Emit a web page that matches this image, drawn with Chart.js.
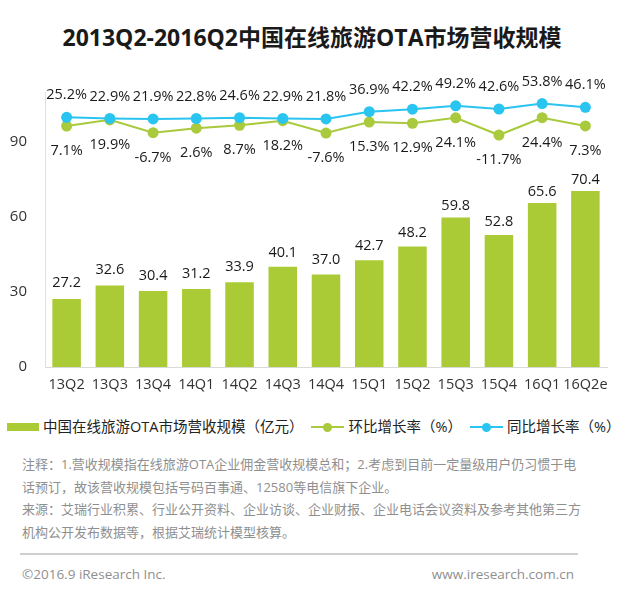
<!DOCTYPE html>
<html><head><meta charset="utf-8">
<script src="https://cdn.jsdelivr.net/npm/chart.js@4.4.0/dist/chart.umd.min.js"></script>
<style>
body{margin:0;background:#fff;}
#wrap{position:relative;width:636px;height:599px;overflow:hidden;font-family:'Open Sans','Noto Sans CJK SC',sans-serif;}
#title{position:absolute;left:0;width:624px;top:21px;text-align:center;font-weight:700;font-size:23px;line-height:32px;color:#1a1a1a;white-space:nowrap;}
#cv{position:absolute;left:0;top:0;}
#legend{position:absolute;left:7px;top:417px;height:20px;display:flex;align-items:center;font-size:14.5px;color:#222;white-space:nowrap;}
.item{display:flex;align-items:center;margin-right:8px;}
.mk{position:relative;width:33px;height:20px;margin-right:4px;}
.txt{line-height:20px;}
#notes{position:absolute;left:22px;top:453px;font-size:13px;line-height:22.5px;color:#8f8f8f;white-space:nowrap;}
#rule{position:absolute;left:20px;top:553px;width:558px;height:2px;background:#cfcfcf;}
#foot{position:absolute;left:22px;top:564px;width:552px;font-size:13.5px;line-height:20px;color:#8f8f8f;}
#foot .r{position:absolute;right:0;top:0;}
</style></head>
<body><div id="wrap">
<div id="title">2013Q2-2016Q2中国在线旅游OTA市场营收规模</div>
<canvas id="cv" width="636" height="400"></canvas>
<div id="legend"></div>
<div id="notes">注释：1.营收规模指在线旅游OTA企业佣金营收规模总和；2.考虑到目前一定量级用户仍习惯于电<br>话预订，故该营收规模包括号码百事通、12580等电信旗下企业。<br>来源：艾瑞行业积累、行业公开资料、企业访谈、企业财报、企业电话会议资料及参考其他第三方<br>机构公开发布数据等，根据艾瑞统计模型核算。</div>
<div id="rule"></div>
<div id="foot"><span>©2016.9 iResearch Inc.</span><span class="r">www.iresearch.com.cn</span></div>
</div>
<script>
const categories=['13Q2','13Q3','13Q4','14Q1','14Q2','14Q3','14Q4','15Q1','15Q2','15Q3','15Q4','16Q1','16Q2e'];
const revenue=[27.2,32.6,30.4,31.2,33.9,40.1,37.0,42.7,48.2,59.8,52.8,65.6,70.4];
const qoq=[7.1,19.9,-6.7,2.6,8.7,18.2,-7.6,15.3,12.9,24.1,-11.7,24.4,7.3];
const yoy=[25.2,22.9,21.9,22.8,24.6,22.9,21.8,36.9,42.2,49.2,42.6,53.8,46.1];
const yTicks=[0,30,60,90];
const seriesNames=['中国在线旅游OTA市场营收规模（亿元）','环比增长率（%）','同比增长率（%）'];

const FAM='"Open Sans","Noto Sans CJK SC",sans-serif';
const GREEN='#aacb36', LGREEN='#a9ca3c', BLUE='#2ac4f0';

const labelPlugin={id:'vlabels',afterDatasetsDraw(chart){
  const ctx=chart.ctx;ctx.save();
  ctx.font='14.5px '+FAM;ctx.fillStyle='#1a1a1a';ctx.textAlign='center';ctx.textBaseline='middle';
  chart.data.datasets.forEach((ds,i)=>{
    const meta=chart.getDatasetMeta(i);
    meta.data.forEach((el,j)=>{
      const v=ds.data[j];let y,t;
      if(ds.type==='bar'){t=v.toFixed(1);y=el.y-(19-0.116*v);}
      else if(ds.kind==='yoy'){t=v.toFixed(1)+'%';y=el.y-22;}
      else{t=v.toFixed(1)+'%';y=el.y+25;}
      ctx.fillText(t,el.x,y);
    });
  });
  ctx.restore();
}};

const chart=new Chart(document.getElementById('cv'),{
  data:{labels:categories,datasets:[
    {type:'line',kind:'yoy',label:seriesNames[2],data:yoy,yAxisID:'y2',borderColor:BLUE,backgroundColor:BLUE,borderWidth:2,pointRadius:5.5,pointBorderWidth:0,pointBackgroundColor:BLUE,order:1,tension:0},
    {type:'line',kind:'qoq',label:seriesNames[1],data:qoq,yAxisID:'y2',borderColor:LGREEN,backgroundColor:LGREEN,borderWidth:2,pointRadius:5.5,pointBorderWidth:0,pointBackgroundColor:LGREEN,order:2,tension:0},
    {type:'bar',label:seriesNames[0],data:revenue,yAxisID:'y',backgroundColor:GREEN,barPercentage:0.66,categoryPercentage:1,order:3}
  ]},
  options:{responsive:false,animation:false,events:[],
    layout:{padding:{top:92,right:29,left:0,bottom:0}},
    plugins:{legend:{display:false},tooltip:{enabled:false},title:{display:false}},
    scales:{
      x:{grid:{display:false,drawTicks:false},border:{display:true,color:'#d9d9d9',width:1},
         ticks:{font:{size:14.5,family:FAM},color:'#333',padding:9,maxRotation:0,autoSkip:false},
         afterFit(s){s.height=33;}},
      y:{min:0,max:110,grid:{display:false,drawTicks:false},border:{display:true,color:'#e0e0e0',width:1},
         ticks:{font:{size:15,family:FAM},color:'#333',padding:18},
         afterBuildTicks(s){s.ticks=yTicks.map(v=>({value:v}));},
         afterFit(s){s.width=45;}},
      y2:{display:false,min:-495,max:78}
    }
  },
  plugins:[labelPlugin]
});

// HTML legend from datasets
const lg=document.getElementById('legend');
[2,1,0].forEach(i=>{
  const ds=chart.data.datasets[i];
  const it=document.createElement('div');it.className='item';
  const mk=document.createElement('div');mk.className='mk';
  if(ds.type==='bar'){
    mk.style.width='32px';
    mk.innerHTML='<div style="position:absolute;left:0;top:6px;width:32px;height:8px;background:'+ds.backgroundColor+'"></div>';
  }else{
    mk.innerHTML='<div style="position:absolute;left:0;top:9px;width:33px;height:2px;background:'+ds.borderColor+'"></div><div style="position:absolute;left:12px;top:5.5px;width:9px;height:9px;border-radius:50%;background:'+ds.borderColor+'"></div>';
  }
  const tx=document.createElement('span');tx.className='txt';tx.textContent=ds.label;
  it.appendChild(mk);it.appendChild(tx);lg.appendChild(it);
});
</script>
</body></html>
